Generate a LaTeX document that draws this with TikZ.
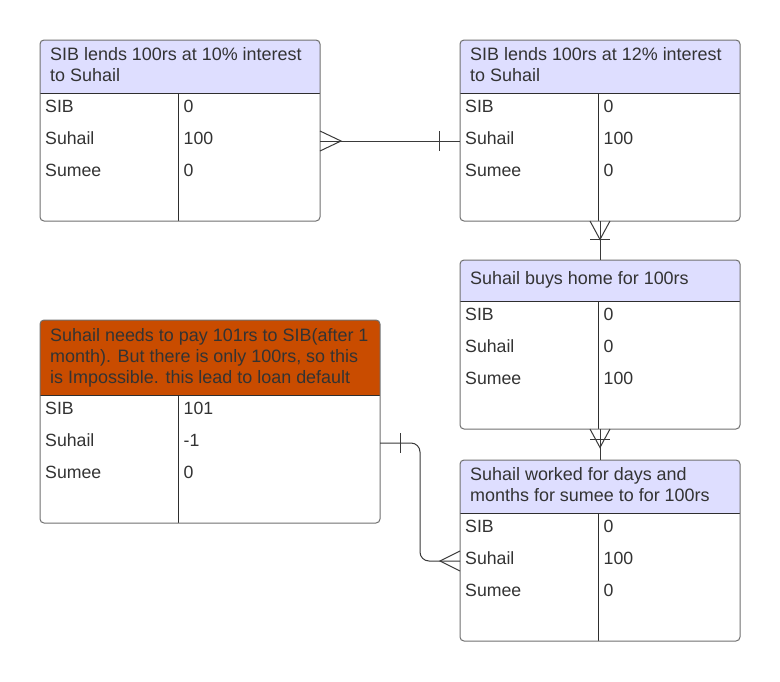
\documentclass[tikz,border=0pt]{standalone}
\usepackage{fontspec}
\setmainfont{Liberation Sans}
\usetikzlibrary{calc}
\definecolor{txtc}{HTML}{333333}
\definecolor{bordc}{HTML}{707070}
\definecolor{inlc}{HTML}{2E2E2E}
\definecolor{hdr}{HTML}{DEDEFF}
\definecolor{orng}{HTML}{C94C00}
\definecolor{connc}{HTML}{3A3A3A}
\tikzset{
  outerbox/.style={draw=bordc, line width=1pt, rounded corners=4pt, anchor=north west, inner sep=0pt, outer sep=0pt},
  innerline/.style={draw=inlc, line width=1pt},
  rowbox/.style={anchor=north west, minimum height=32pt, inner sep=0pt, outer sep=0pt},
  lbl/.style={anchor=base west, inner sep=0pt, text=txtc, font=\fontsize{17.7}{21}\selectfont},
  hd/.style={anchor=base west, inner sep=0pt, text=txtc, font=\fontsize{17.95}{21}\selectfont},
  conn/.style={draw=connc, line width=1pt},
}
\newcommand{\erbox}[6]{%
  \begin{scope}
    \clip[rounded corners=4pt] (#2,#3) rectangle ++(#4,#5+128);
    \fill[white] (#2,#3) rectangle ++(#4,#5+128);
    \fill[#6] (#2,#3) rectangle ++(#4,#5);
  \end{scope}
  \draw[innerline] (#2,#3+#5) -- ++(#4,0);
  \draw[innerline] (#2+138.5,#3+#5) -- ++(0,128);
  \node[outerbox, minimum width=#4pt, minimum height={#5pt+128pt}] (#1) at (#2,#3) {};
  \foreach \k in {1,2,3,4} {
    \node[rowbox, minimum width=#4pt] (#1r\k) at (#2,{#3+#5+32*(\k-1)}) {};
  }
}
\newcommand{\erows}[4]{%
  \node[lbl] (#1la) at ([xshift=5pt,yshift=-19.5pt]#1r1.north west) {SIB};
  \node[lbl] (#1lb) at ([xshift=5pt,yshift=-19.5pt]#1r2.north west) {Suhail};
  \node[lbl] (#1lc) at ([xshift=5pt,yshift=-19.5pt]#1r3.north west) {Sumee};
  \node[lbl] (#1va) at ([xshift=143.5pt,yshift=-19.5pt]#1r1.north west) {#2};
  \node[lbl] (#1vb) at ([xshift=143.5pt,yshift=-19.5pt]#1r2.north west) {#3};
  \node[lbl] (#1vc) at ([xshift=143.5pt,yshift=-19.5pt]#1r3.north west) {#4};
}
\begin{document}
\begin{tikzpicture}[x=1pt,y=-1pt]
\useasboundingbox[fill=white] (0,0) rectangle (780,681);

% tables
\erbox{t1}{40}{40}{280}{53}{hdr}
\erows{t1}{0}{100}{0}
\node[hd] (t1h1) at (50,60) {SIB lends 100rs at 10\% interest};
\node[hd] (t1h2) at (50,81.7) {to Suhail};

\erbox{t2}{460}{40}{280}{53}{hdr}
\erows{t2}{0}{100}{0}
\node[hd] (t2h1) at (470,60) {SIB lends 100rs at 12\% interest};
\node[hd] (t2h2) at (470,81.7) {to Suhail};

\erbox{t3}{460}{260}{280}{41}{hdr}
\erows{t3}{0}{0}{100}
\node[hd] (t3h1) at (470,284.3) {Suhail buys home for 100rs};

\erbox{t4}{40}{320}{340}{75}{orng}
\erows{t4}{101}{-1}{0}
\node[hd] (t4h1) at (50,341.7) {Suhail needs to pay 101rs to SIB(after 1};
\node[hd] (t4h2) at (50,362.7) {month). But there is only 100rs, so this};
\node[hd] (t4h3) at (50,383.5) {is Impossible. this lead to loan default};

\erbox{t5}{460}{460}{280}{53}{hdr}
\erows{t5}{0}{100}{0}
\node[hd] (t5h1) at (470,480) {Suhail worked for days and};
\node[hd] (t5h2) at (470,501) {months for sumee to for 100rs};

% connector t1 -> t2
\draw[conn] (t1r2.east) -- (t2r2.west);
\draw[conn] ([yshift=10pt]t1r2.east) -- ([xshift=21pt]t1r2.east) -- ([yshift=-10pt]t1r2.east);
\draw[conn] ([xshift=-20.5pt,yshift=10pt]t2r2.west) -- ([xshift=-20.5pt,yshift=-10pt]t2r2.west);

% connector t2 -> t3
\draw[conn] (t2.south) -- (t3.north);
\draw[conn] ([xshift=-10pt]t2.south) -- ([yshift=-18.5pt]t2.south) -- ([xshift=10pt]t2.south);
\draw[conn] ([xshift=-10pt,yshift=-18pt]t2.south) -- ([xshift=10pt,yshift=-18pt]t2.south);

% connector t3 -> t5
\draw[conn] (t3.south) -- (t5.north);
\draw[conn] ([xshift=-10pt]t3.south) -- ([yshift=-18.5pt]t3.south) -- ([xshift=10pt]t3.south);
\draw[conn] ([xshift=-10pt,yshift=-10.5pt]t3.south) -- ([xshift=10pt,yshift=-10.5pt]t3.south);

% connector t4 -> t5
\draw[conn, rounded corners=9pt] (t4r2.east) -- ++(40,0) |- (t5r2.west);
\draw[conn] ([xshift=20.5pt,yshift=10pt]t4r2.east) -- ([xshift=20.5pt,yshift=-10pt]t4r2.east);
\draw[conn] ([yshift=10pt]t5r2.west) -- ([xshift=-20pt]t5r2.west) -- ([yshift=-10pt]t5r2.west);
\end{tikzpicture}
\end{document}
